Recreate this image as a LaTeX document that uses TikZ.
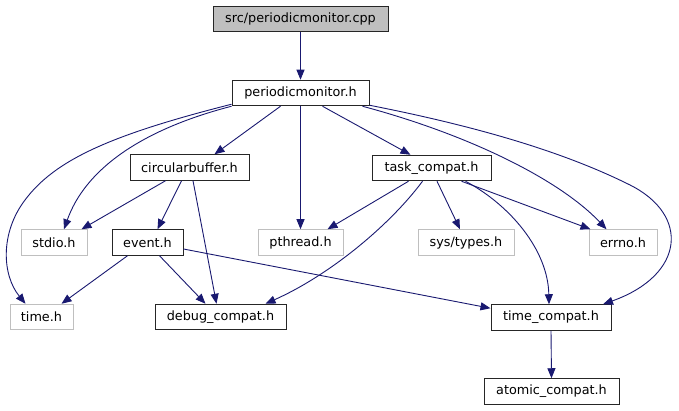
\documentclass[tikz,border=0pt]{standalone}
\usepackage{fontspec}
\setmainfont{DejaVu Sans}
\usepackage{tikz}
\usetikzlibrary{arrows.meta,calc}
\definecolor{edgeblue}{HTML}{191970}
\definecolor{lightgrey}{HTML}{BFBFBF}

\begin{document}
\begin{tikzpicture}[
  x=1pt,y=-1pt,
  every node/.style={font=\fontsize{12.8}{15}\selectfont,inner sep=0pt,minimum height=25.5pt},
  hdr/.style={draw=black!85,line width=1pt},
  sys/.style={draw=lightgrey,line width=1pt},
  root/.style={draw=black!85,fill=lightgrey,line width=1pt},
  arr/.style={-{Triangle[length=10pt,width=8pt]},edgeblue,line width=0.9pt}
]
\useasboundingbox (0,0) rectangle (679,411);
\node[root,minimum width=175pt] (cpp) at (300.5,19) {src/periodicmonitor.cpp};
\node[hdr,minimum width=137pt] (pm) at (300.5,93) {periodicmonitor.h};
\node[hdr,minimum width=119pt] (cb) at (189.5,167.5) {circularbuffer.h};
\node[hdr,minimum width=119pt] (tc) at (431.5,168) {task\_compat.h};
\node[sys,minimum width=66pt] (stdio) at (54,242.5) {stdio.h};
\node[hdr,minimum width=71pt] (event) at (147.5,242.5) {event.h};
\node[sys,minimum width=85pt] (pthread) at (300.5,242.5) {pthread.h};
\node[sys,minimum width=96pt] (systypes) at (466,242.5) {sys/types.h};
\node[sys,minimum width=68pt] (errno) at (623,242.5) {errno.h};
\node[sys,minimum width=63pt] (time) at (41.5,317) {time.h};
\node[hdr,minimum width=131pt] (debug) at (220.5,317) {debug\_compat.h};
\node[hdr,minimum width=120pt] (tcompat) at (551,317.5) {time\_compat.h};
\node[hdr,minimum width=135pt] (atomic) at (551.5,391.5) {atomic\_compat.h};
% periodicmonitor.cpp / periodicmonitor.h
\draw[arr] (cpp.south) -- (pm.north);
\draw[arr] ([xshift=-20pt]pm.south) -- ([xshift=25pt]cb.north);
\draw[arr] (pm.south) -- (pthread.north);
\draw[arr] ([xshift=22pt]pm.south) -- ([xshift=-21pt]tc.north);
\draw[arr] (pm.south west) .. controls (140,130) and (85,170) .. ([xshift=10pt]stdio.north);
\draw[arr] ([yshift=2pt]pm.south west) .. controls (110,135) and (55,160) .. (25,200)
  .. controls (0,233) and (2,275) .. ([xshift=-16pt]time.north);
\draw[arr] ([xshift=-7pt]pm.south east) .. controls (470,135) and (560,180) .. ([xshift=18pt]errno.north west);
\draw[arr] ([yshift=1pt]pm.south east) .. controls (470,125) and (560,150) .. (630,185)
  .. controls (690,215) and (685,275) .. ([xshift=52pt]tcompat.north);
% circularbuffer.h / event.h
\draw[arr] ([xshift=-24pt]cb.south) -- ([xshift=-6pt]stdio.north east);
\draw[arr] ([xshift=-8pt]cb.south) -- ([xshift=10pt]event.north);
\draw[arr] ([xshift=3.5pt]cb.south) -- ([xshift=-4pt]debug.north);
\draw[arr] ([xshift=-20pt]event.south) -- ([xshift=20pt]time.north);
\draw[arr] ([xshift=12pt]event.south) -- ([xshift=-15pt]debug.north);
\draw[arr] ([yshift=-6.5pt]event.east) -- ([yshift=-4pt]tcompat.north west);
% task_compat.h
\draw[arr] ([xshift=-23pt]tc.south) -- ([xshift=27pt]pthread.north);
\draw[arr] ([xshift=-9pt]tc.south) .. controls (390,225) and (330,275) .. ([xshift=45pt]debug.north);
\draw[arr] ([xshift=5.5pt]tc.south) -- ([xshift=-6pt]systypes.north);
\draw[arr] ([xshift=30pt]tc.south) -- ([xshift=2pt]errno.north west);
\draw[arr] ([xshift=34pt]tc.south) .. controls (510,205) and (548,250) .. ([xshift=-2pt]tcompat.north);
% time_compat.h
\draw[arr] (tcompat.south) -- (atomic.north);
\end{tikzpicture}
\end{document}
